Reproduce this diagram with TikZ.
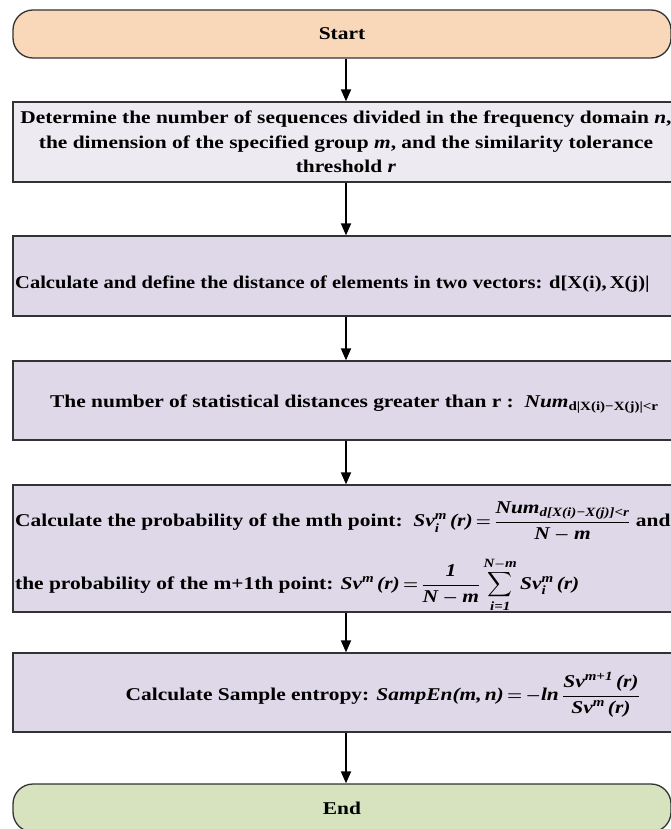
\documentclass[tikz,border=0pt]{standalone}
\usepackage{amsmath}
\usepackage{fontspec}
\setmainfont{Liberation Serif}
\newfontfamily\widefont{Liberation Serif}[FakeStretch=1.19]
\newfontfamily\midfont{Liberation Serif}[FakeStretch=1.14]
\usetikzlibrary{arrows.meta}
\definecolor{clrStart}{HTML}{F9D7B9}
\definecolor{clrEnd}  {HTML}{D7E3BE}
\definecolor{clrPale} {HTML}{EDEAF2}
\definecolor{clrStep} {HTML}{DED8E8}
\definecolor{clrLine} {HTML}{333333}
\newcommand{\fsz}{\fontsize{18}{24.5}\selectfont}
\newcommand{\vb}[1]{\text{\widefont\bfseries\itshape #1}}
\newcommand{\eq}{\mskip3mu{=}\mskip3mu}
\tikzset{
  box/.style = {
    rectangle, draw=clrLine, line width=1.3pt,
    minimum width=666pt, inner sep=0pt,
  },
  term/.style    = {box, rounded corners=20pt,
                    minimum width=658pt, minimum height=48pt},
  startbox/.style = {term, fill=clrStart},
  endbox/.style   = {term, fill=clrEnd},
  inbox/.style    = {box, fill=clrPale},
  stepbox/.style  = {box, fill=clrStep},
  txt/.style    = {font=\fsz\widefont\bfseries\boldmath, inner sep=0pt},
  midtxt/.style = {font=\fsz\midfont\bfseries\boldmath, inner sep=0pt},
  arr/.style = {-{Triangle[length=12pt, width=10pt]}, line width=1.8pt},
}

\begin{document}
\begin{tikzpicture}[x=1pt, y=-1pt]
\useasboundingbox (0,0) rectangle (670,829);

% ══════════════════════════════════════════════════════════════════════════
%  Terminals and steps (one column)
% ══════════════════════════════════════════════════════════════════════════

\node[startbox, txt] (start) at (342,  34  ) {Start};
\node[inbox, txt, minimum height=80pt, align=center]
  (det)  at (346, 142 )
  {Determine the number of sequences divided in the frequency domain \textit{n},\\
   the dimension of the specified group \textit{m}, and the similarity tolerance\\
   threshold \textit{r}};
\node[stepbox, minimum height=80pt]  (dist) at (346, 276  ) {};
\node[stepbox, minimum height=79pt]  (cnt)  at (346, 400.5) {};
\node[stepbox, minimum height=127pt] (prob) at (346, 548.5) {};
\node[stepbox, minimum height=79pt]  (ent)  at (346, 692.5) {};
\node[endbox, txt]   (stop)  at (342, 808 ) {End};

% ── step texts ──────────────────────────────────────────────────────────
\node[midtxt, anchor=west] (tdist) at (15, 284)
  {Calculate and define the distance of elements in two vectors: d[X(i),\,X(j)|};
\node[txt, anchor=west] (tcnt) at (50, 404)
  {The number of statistical distances greater than r :\ \
   $\vb{Num}_{\text{\bfseries d|X(i)−X(j)|<r}}$};
\node[txt, anchor=west] (tprob1) at (15, 522)
  {Calculate the probability of the mth point:\ \
   $\vb{Sv}_{\vb{i}}^{\vb{m}}\vb{\,(r)} \eq
    \dfrac{\vb{Num}_{\vb{d[X(i)−X(j)]<r}}}{\vb{N}-\vb{m}}$ and};
\node[txt, anchor=west] (tprob2) at (15, 585)
  {the probability of the m+1th point:
   $\displaystyle \vb{Sv}^{\vb{m}}\vb{\,(r)} \eq
    \frac{\vb{1}}{\vb{N}-\vb{m}}\sum_{\vb{i=1}}^{\vb{N}-\vb{m}}
    \vb{Sv}_{\vb{i}}^{\vb{m}}\vb{\,(r)}$};
\node[txt, anchor=east] (tent) at (640, 695)
  {Calculate Sample entropy:
   $\vb{SampEn(m,\,n)} \eq {-}\vb{ln}\,
    \dfrac{\vb{Sv}^{\vb{m+1}}\vb{\,(r)}}{\vb{Sv}^{\vb{m}}\vb{\,(r)}}$};

% ══════════════════════════════════════════════════════════════════════════
%  Arrows
% ══════════════════════════════════════════════════════════════════════════

\draw[arr] (det.north |- start.south) -- (det.north);
\draw[arr] (det)  -- (dist);
\draw[arr] (dist) -- (cnt);
\draw[arr] (cnt)  -- (prob);
\draw[arr] (prob) -- (ent);
\draw[arr] (ent)  -- (ent.south |- stop.north);

\end{tikzpicture}
\end{document}
